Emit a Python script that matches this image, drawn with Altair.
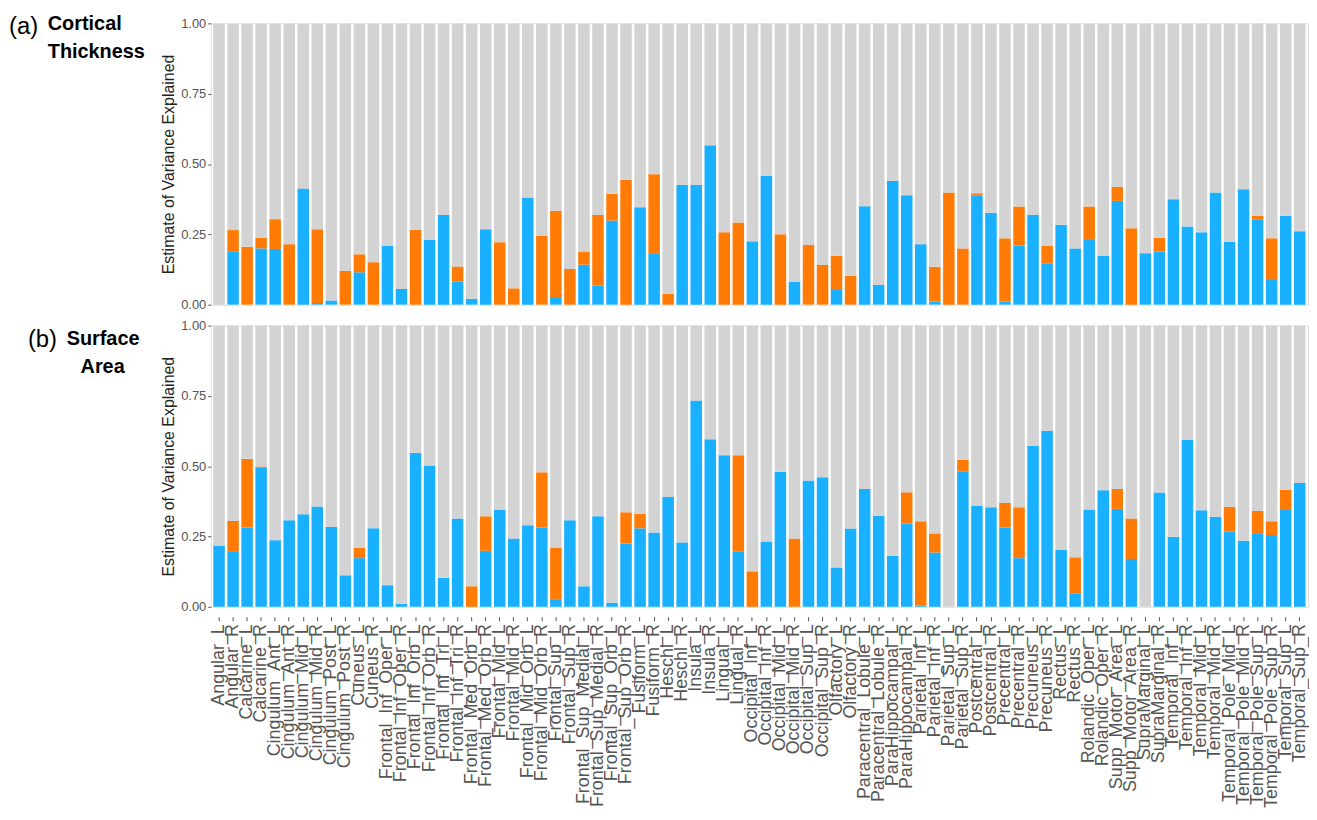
import altair as alt
import pandas as pd

regions = [
    "Angular_L", "Angular_R", "Calcarine_L", "Calcarine_R", "Cingulum_Ant_L", "Cingulum_Ant_R",
    "Cingulum_Mid_L", "Cingulum_Mid_R", "Cingulum_Post_L", "Cingulum_Post_R", "Cuneus_L", "Cuneus_R",
    "Frontal_Inf_Oper_L", "Frontal_Inf_Oper_R", "Frontal_Inf_Orb_L", "Frontal_Inf_Orb_R",
    "Frontal_Inf_Tri_L", "Frontal_Inf_Tri_R", "Frontal_Med_Orb_L", "Frontal_Med_Orb_R",
    "Frontal_Mid_L", "Frontal_Mid_R", "Frontal_Mid_Orb_L", "Frontal_Mid_Orb_R",
    "Frontal_Sup_L", "Frontal_Sup_R", "Frontal_Sup_Medial_L", "Frontal_Sup_Medial_R",
    "Frontal_Sup_Orb_L", "Frontal_Sup_Orb_R", "Fusiform_L", "Fusiform_R", "Heschl_L", "Heschl_R",
    "Insula_L", "Insula_R", "Lingual_L", "Lingual_R", "Occipital_Inf_L", "Occipital_Inf_R",
    "Occipital_Mid_L", "Occipital_Mid_R", "Occipital_Sup_L", "Occipital_Sup_R",
    "Olfactory_L", "Olfactory_R", "Paracentral_Lobule_L", "Paracentral_Lobule_R",
    "ParaHippocampal_L", "ParaHippocampal_R", "Parietal_Inf_L", "Parietal_Inf_R",
    "Parietal_Sup_L", "Parietal_Sup_R", "Postcentral_L", "Postcentral_R",
    "Precentral_L", "Precentral_R", "Precuneus_L", "Precuneus_R", "Rectus_L", "Rectus_R",
    "Rolandic_Oper_L", "Rolandic_Oper_R", "Supp_Motor_Area_L", "Supp_Motor_Area_R",
    "SupraMarginal_L", "SupraMarginal_R", "Temporal_Inf_L", "Temporal_Inf_R",
    "Temporal_Mid_L", "Temporal_Mid_R", "Temporal_Pole_Mid_L", "Temporal_Pole_Mid_R",
    "Temporal_Pole_Sup_L", "Temporal_Pole_Sup_R", "Temporal_Sup_L", "Temporal_Sup_R",
]

# (a) Cortical thickness: blue (bottom) and orange (stacked) components
ct_blue = [
    0.0, 0.19, 0.0, 0.20, 0.198, 0.0, 0.413, 0.006, 0.015, 0.0,
    0.115, 0.0, 0.21, 0.056, 0.0, 0.23, 0.319, 0.082, 0.02, 0.268,
    0.0, 0.0, 0.381, 0.0, 0.027, 0.0, 0.142, 0.068, 0.299, 0.0,
    0.346, 0.183, 0.0, 0.425, 0.425, 0.567, 0.0, 0.0, 0.225, 0.458,
    0.0, 0.082, 0.0, 0.0, 0.052, 0.0, 0.35, 0.07, 0.44, 0.389,
    0.215, 0.011, 0.0, 0.0, 0.389, 0.327, 0.011, 0.21, 0.319, 0.147,
    0.284, 0.20, 0.23, 0.174, 0.369, 0.0, 0.183, 0.189, 0.375, 0.278,
    0.257, 0.399, 0.224, 0.41, 0.304, 0.091, 0.316, 0.261,
]
ct_orange = [
    0.0, 0.075, 0.206, 0.038, 0.106, 0.215, 0.0, 0.262, 0.0, 0.12,
    0.064, 0.151, 0.0, 0.0, 0.266, 0.0, 0.0, 0.054, 0.0, 0.0,
    0.222, 0.058, 0.0, 0.244, 0.307, 0.127, 0.047, 0.251, 0.095, 0.444,
    0.0, 0.281, 0.039, 0.0, 0.0, 0.0, 0.257, 0.292, 0.0, 0.0,
    0.25, 0.0, 0.212, 0.141, 0.122, 0.103, 0.0, 0.0, 0.0, 0.0,
    0.0, 0.124, 0.399, 0.20, 0.007, 0.0, 0.225, 0.139, 0.0, 0.063,
    0.0, 0.0, 0.119, 0.0, 0.05, 0.272, 0.0, 0.049, 0.0, 0.0,
    0.0, 0.0, 0.0, 0.0, 0.012, 0.145, 0.0, 0.0,
]

# (b) Surface area
sa_blue = [
    0.218, 0.195, 0.282, 0.494, 0.237, 0.308, 0.329, 0.357, 0.284, 0.112,
    0.173, 0.279, 0.077, 0.011, 0.548, 0.502, 0.103, 0.314, 0.0, 0.199,
    0.346, 0.243, 0.29, 0.282, 0.027, 0.308, 0.073, 0.322, 0.014, 0.225,
    0.279, 0.264, 0.39, 0.229, 0.733, 0.596, 0.539, 0.197, 0.0, 0.232,
    0.48, 0.0, 0.449, 0.461, 0.14, 0.278, 0.419, 0.324, 0.182, 0.296,
    0.004, 0.193, 0.0, 0.48, 0.36, 0.354, 0.282, 0.173, 0.572, 0.625,
    0.202, 0.048, 0.346, 0.414, 0.348, 0.17, 0.0, 0.406, 0.249, 0.593,
    0.343, 0.32, 0.268, 0.235, 0.259, 0.255, 0.344, 0.44,
]
sa_orange = [
    0.0, 0.11, 0.244, 0.005, 0.0, 0.0, 0.0, 0.0, 0.0, 0.0,
    0.036, 0.0, 0.0, 0.0, 0.0, 0.0, 0.0, 0.0, 0.073, 0.123,
    0.0, 0.0, 0.0, 0.196, 0.184, 0.0, 0.0, 0.0, 0.0, 0.111,
    0.052, 0.0, 0.0, 0.0, 0.0, 0.0, 0.0, 0.342, 0.126, 0.0,
    0.0, 0.243, 0.0, 0.0, 0.0, 0.0, 0.0, 0.0, 0.0, 0.111,
    0.30, 0.068, 0.0, 0.042, 0.0, 0.0, 0.087, 0.181, 0.0, 0.0,
    0.0, 0.128, 0.0, 0.0, 0.071, 0.144, 0.0, 0.0, 0.0, 0.0,
    0.0, 0.0, 0.087, 0.0, 0.082, 0.049, 0.072, 0.0,
]

components = ["A", "C", "E"]
colors = ["#19B0FF", "#FF7B05", "#D3D3D3"]

Y_TITLE = "Estimate of Variance Explained"
FONT = "Liberation Sans"
W = 1104
H = 283


def long_table(blue, orange):
    rows = []
    for r, b, o in zip(regions, blue, orange):
        rows.append({"region": r, "comp": "A", "ord": 0, "value": b})
        rows.append({"region": r, "comp": "C", "ord": 1, "value": o})
        rows.append({"region": r, "comp": "E", "ord": 2, "value": max(0.0, 1.0 - b - o)})
    return pd.DataFrame(rows)


def panel(blue, orange, show_x, labels):
    df = long_table(blue, orange)
    if show_x:
        xaxis = alt.Axis(
            title=None, labelAngle=270, labelFontSize=18, labelFont=FONT,
            labelColor="#555555", labelLimit=400, ticks=True, tickSize=4,
            tickColor="#555555", domain=False, offset=10, labelPadding=3,
        )
    else:
        xaxis = None
    bars = alt.Chart(df).mark_bar().encode(
        x=alt.X("region:N", sort=regions, axis=xaxis,
                scale=alt.Scale(paddingInner=0.18, paddingOuter=0.18)),
        y=alt.Y("sum(value):Q", stack="zero",
                scale=alt.Scale(domain=[0, 1], nice=False),
                axis=alt.Axis(title=Y_TITLE, values=[0, 0.25, 0.5, 0.75, 1.0], format=".2f",
                              grid=False, domain=False, tickSize=3, tickColor="#555555",
                              labelColor="#555555", labelFontSize=13, labelFont=FONT,
                              titleFont=FONT, titleFontSize=16, titleFontWeight="normal",
                              titleColor="#222222", titlePadding=4, labelPadding=2)),
        color=alt.Color("comp:N", scale=alt.Scale(domain=components, range=colors), legend=None),
        order=alt.Order("ord:Q", sort="ascending"),
    )
    layers = [bars]
    for txt, x, y, size, weight in labels:
        tdf = pd.DataFrame({"t": [txt]})
        layers.append(
            alt.Chart(tdf).mark_text(
                align="left", baseline="alphabetic", fontSize=size, fontWeight=weight,
                font=FONT, color="#000000",
            ).encode(text="t:N", x=alt.value(x), y=alt.value(y))
        )
    return alt.layer(*layers).properties(width=W, height=H)


top = panel(ct_blue, ct_orange, False, [
    ("(a)", -203, 11, 24, "normal"),
    ("Cortical", -164, 7, 20, "bold"),
    ("Thickness", -164, 35, 20, "bold"),
])
bottom = panel(sa_blue, sa_orange, True, [
    ("(b)", -184, 22, 24, "normal"),
    ("Surface", -145, 20, 20, "bold"),
    ("Area", -131, 48, 20, "bold"),
])

chart = alt.vconcat(top, bottom, spacing=21, bounds="flush").properties(
    padding={"left": 0, "top": 3, "right": 0, "bottom": 2}
).configure_view(stroke=None).configure(background="white")

chart.save("out.html", embed_options={"renderer": "svg", "actions": False})
